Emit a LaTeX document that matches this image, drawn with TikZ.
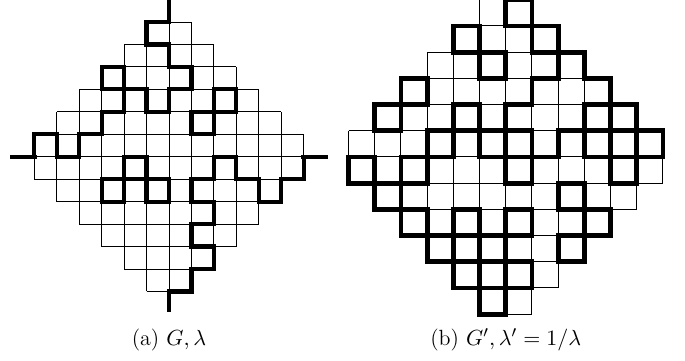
\documentclass[tikz,border=0pt]{standalone}
\begin{document}
\begin{tikzpicture}[x=0.5pt,y=-0.5pt,
  gridline/.style={line width=0.45pt, black},
  thickedge/.style={line width=2.1pt, line cap=rect, black},
  thickedgeb/.style={thickedge, line width=2.4pt},
  capt/.style={font=\fontsize{11}{13}\selectfont, inner sep=0pt, anchor=base}]
\useasboundingbox (0,0) rectangle (685,360);
% thick edges of G: type/i/j ; h = (i,j)--(i+1,j), v = (i,j)--(i,j+1)
\def\Gedges{h/-1/6, v/-1/5, h/-1/5, v/0/4, h/0/4, v/1/3, h/0/3, v/0/2, h/-1/2, v/-1/2,
 h/-2/3, h/-3/3, v/-3/3, h/-3/4, v/-2/3, v/-2/2, h/-3/2, v/-3/1, h/-4/1, v/-4/0,
 h/-5/0, v/-5/0, h/-6/1, v/-6/0,
 h/1/1, h/1/2, v/1/1, v/2/1,
 h/2/2, h/2/3, v/2/2, v/3/2,
 h/-3/-2, h/-3/-1, v/-3/-2, v/-2/-2,
 h/-2/-1, h/-2/0, v/-2/-1, v/-1/-1,
 h/-1/-2, h/-1/-1, v/-1/-2, v/0/-2,
 v/6/-1, h/5/-1, v/5/-2, h/4/-2, v/4/-2, h/3/-1, v/3/-1, h/2/0, v/2/-1, h/1/-1,
 v/1/-2, h/1/-2, v/2/-3, h/1/-3, v/1/-4, h/1/-4, v/2/-5, h/1/-5, v/1/-6, h/0/-6}
\foreach \t/\p/\q in \Gedges {\expandafter\gdef\csname E\t:\p:\q\endcsname{1}}
% ---------- (a) G ----------
\begin{scope}[shift={(169,156.7)}, xscale=22.45, yscale=-22.45]
  \foreach \k in {-6,...,6}{
    \pgfmathtruncatemacro\w{min(6,7-abs(\k))}
    \draw[gridline] (-\w,\k) -- (\w,\k);
    \draw[gridline] (\k,-\w) -- (\k,\w);
  }
  \foreach \t/\p/\q in \Gedges {
    \if h\t \draw[thickedge] (\p,\q) -- (\p+1,\q);
    \else \draw[thickedge] (\p,\q) -- (\p,\q+1); \fi
  }
  \coordinate (tA) at (0,6);   \coordinate (tB) at (0,7);
  \coordinate (lA) at (-6,0);  \coordinate (lB) at (-7,0);
  \coordinate (rA) at (6,0);   \coordinate (rB) at (7,0);
  \coordinate (bA) at (0,-6);  \coordinate (bB) at (0,-6.85);
  \draw[thickedge] (tA) -- (tB);
  \draw[thickedge] (lA) -- (lB);
  \draw[thickedge] (rA) -- (rB);
  \draw[thickedge] (bA) -- (bB);
\end{scope}
% ---------- (b) G' ----------
\begin{scope}[shift={(505.7,156.9)}, xscale=26.2, yscale=-26.2]
  \foreach \k in {-6,...,6}{
    \pgfmathtruncatemacro\w{min(6,7-abs(\k))}
    \draw[gridline] (-\w,\k) -- (\w,\k);
    \draw[gridline] (\k,-\w) -- (\k,\w);
  }
  \foreach \k in {-6,...,6}{
    \pgfmathtruncatemacro\w{min(6,7-abs(\k))}
    \pgfmathtruncatemacro\wm{\w-1}
    \foreach \m in {-\w,...,\wm}{
      \ifcsname Eh:\m:\k\endcsname\else \draw[thickedgeb] (\m,\k) -- (\m+1,\k);\fi
      \ifcsname Ev:\k:\m\endcsname\else \draw[thickedgeb] (\k,\m) -- (\k,\m+1);\fi
    }
  }
\end{scope}
\node[capt] (capa) at (169,345) {(a) $G,\lambda$};
\node[capt] (capb) at (505.7,345) {(b) $G',\lambda'=1/\lambda$};
\end{tikzpicture}
\end{document}
